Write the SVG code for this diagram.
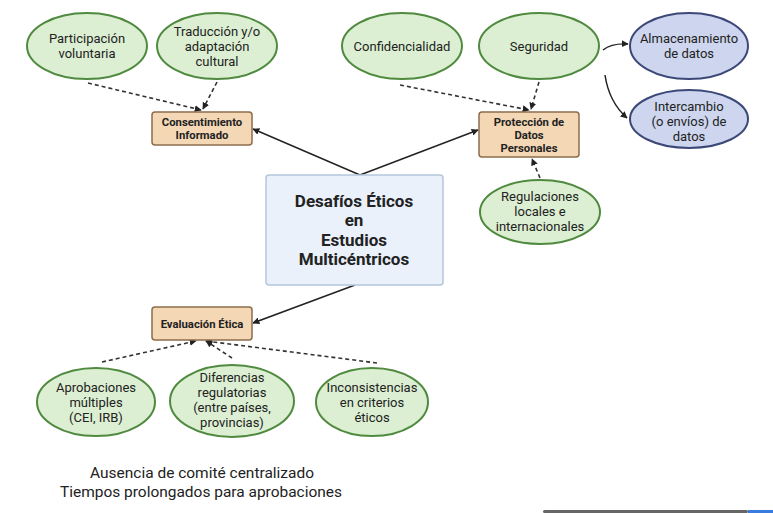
<svg xmlns="http://www.w3.org/2000/svg" width="773" height="513" viewBox="0 0 773 513">
<defs>
<style>
.g{fill:#dcefd2;stroke:#4f8a3f;stroke-width:2}
.b{fill:#cdd6ee;stroke:#3b4878;stroke-width:2}
.box{fill:#f4d8b6;stroke:#8c6c4c;stroke-width:1.5}
.main{fill:#eaf1fb;stroke:#b4c6dc;stroke-width:1.5}
text{font-family:Roboto,"Liberation Sans",sans-serif;fill:#222;text-anchor:middle}
.t{font-size:13px}
.bt{font-size:11.3px;font-weight:bold}
.mt{font-size:17px;font-weight:bold}
.ft{font-size:15.5px}
.s{fill:none;stroke:#222;stroke-width:1.5}
.d{fill:none;stroke:#333;stroke-width:1.6;stroke-dasharray:4 3}
</style>
<marker id="a" viewBox="0 0 10 10" refX="9" refY="5" markerWidth="7" markerHeight="7" orient="auto" markerUnits="userSpaceOnUse">
<path d="M0,0 L10,5 L0,10 z" fill="#222"/>
</marker>
</defs>
<rect width="773" height="513" fill="#fff"/>

<g id="connectors">
<line class="s" x1="360" y1="175" x2="253" y2="129" marker-end="url(#a)"/>
<line class="s" x1="360" y1="175" x2="478" y2="130" marker-end="url(#a)"/>
<line class="s" x1="355" y1="285" x2="253" y2="323" marker-end="url(#a)"/>
<line class="d" x1="88" y1="83" x2="201" y2="110" marker-end="url(#a)"/>
<line class="d" x1="217" y1="82" x2="203" y2="109" marker-end="url(#a)"/>
<line class="d" x1="400" y1="85" x2="529" y2="110" marker-end="url(#a)"/>
<line class="d" x1="539" y1="82" x2="531" y2="109" marker-end="url(#a)"/>
<line class="d" x1="540" y1="178" x2="532" y2="159" marker-end="url(#a)"/>
<line class="d" x1="102" y1="362" x2="196" y2="341" marker-end="url(#a)"/>
<line class="d" x1="232" y1="358" x2="206" y2="341" marker-end="url(#a)"/>
<line class="d" x1="377" y1="363" x2="206" y2="341" marker-end="url(#a)"/>
<path class="s" d="M603,50 Q612,43 628,44" marker-end="url(#a)"/>
<path class="s" d="M605,75 Q609,102 627,118" marker-end="url(#a)"/>
</g>

<g id="participacion"><ellipse class="g" cx="87" cy="46" rx="60" ry="33"/><text class="t" x="87" y="43">Participación</text><text class="t" x="87" y="58">voluntaria</text></g>
<g id="traduccion"><ellipse class="g" cx="217" cy="46" rx="60" ry="33"/><text class="t" x="217" y="36">Traducción y/o</text><text class="t" x="217" y="51">adaptación</text><text class="t" x="217" y="66">cultural</text></g>
<g id="confidencialidad"><ellipse class="g" cx="402" cy="46" rx="60" ry="33"/><text class="t" x="402" y="51">Confidencialidad</text></g>
<g id="seguridad"><ellipse class="g" cx="539" cy="46" rx="60" ry="33"/><text class="t" x="539" y="51">Seguridad</text></g>
<g id="almacenamiento"><ellipse class="b" cx="689" cy="46" rx="59" ry="33"/><text class="t" x="689" y="43">Almacenamiento</text><text class="t" x="689" y="58">de datos</text></g>
<g id="intercambio"><ellipse class="b" cx="689" cy="119" rx="59" ry="29"/><text class="t" x="689" y="111">Intercambio</text><text class="t" x="689" y="126">(o envíos) de</text><text class="t" x="689" y="141">datos</text></g>
<g id="regulaciones"><ellipse class="g" cx="540" cy="212" rx="60" ry="32"/><text class="t" x="540" y="201">Regulaciones</text><text class="t" x="540" y="216">locales e</text><text class="t" x="540" y="231">internacionales</text></g>

<g id="consentimiento"><rect class="box" x="152" y="112" width="100" height="33" rx="3"/><text class="bt" x="202" y="126">Consentimiento</text><text class="bt" x="202" y="139">Informado</text></g>
<g id="proteccion"><rect class="box" x="479" y="112" width="100" height="45" rx="3"/><text class="bt" x="529" y="126">Protección de</text><text class="bt" x="529" y="139">Datos</text><text class="bt" x="529" y="152">Personales</text></g>
<g id="evaluacion"><rect class="box" x="152" y="307" width="100" height="33" rx="3"/><text class="bt" x="202" y="328">Evaluación Ética</text></g>

<g id="central"><rect class="main" x="266" y="175" width="177" height="110" rx="3"/>
<text class="mt" x="354" y="207">Desafíos Éticos</text><text class="mt" x="354" y="226">en</text><text class="mt" x="354" y="246">Estudios</text><text class="mt" x="354" y="265">Multicéntricos</text></g>

<g id="aprobaciones"><ellipse class="g" cx="96" cy="402" rx="59" ry="34"/><text class="t" x="96" y="392">Aprobaciones</text><text class="t" x="96" y="407">múltiples</text><text class="t" x="96" y="422">(CEI, IRB)</text></g>
<g id="diferencias"><ellipse class="g" cx="232" cy="401" rx="62" ry="36"/><text class="t" x="232" y="382">Diferencias</text><text class="t" x="232" y="397">regulatorias</text><text class="t" x="232" y="412">(entre países,</text><text class="t" x="232" y="427">provincias)</text></g>
<g id="inconsistencias"><ellipse class="g" cx="372" cy="402" rx="56" ry="34"/><text class="t" x="372" y="392">Inconsistencias</text><text class="t" x="372" y="407">en criterios</text><text class="t" x="372" y="422">éticos</text></g>

<g id="nota"><text class="ft" x="202" y="478" textLength="224" lengthAdjust="spacingAndGlyphs">Ausencia de comité centralizado</text><text class="ft" x="201" y="497" textLength="282" lengthAdjust="spacingAndGlyphs">Tiempos prolongados para aprobaciones</text></g>
<rect x="543" y="510" width="205" height="3" rx="1.5" fill="#666"/>
<rect x="748" y="510" width="25" height="3" fill="#3a7be0"/>
</svg>
